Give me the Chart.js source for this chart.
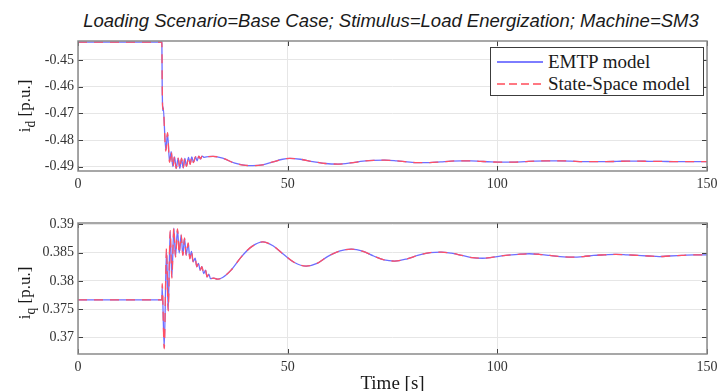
<!DOCTYPE html>
<html>
<head>
<meta charset="utf-8">
<script src="https://cdn.jsdelivr.net/npm/chart.js@4.4.1/dist/chart.umd.min.js"></script>
<style>
  html, body { margin: 0; padding: 0; background: #fff; }
  #wrap { position: relative; width: 726px; height: 391px; overflow: hidden; background: #fff; }
  canvas { position: absolute; left: 0; }
  #title { position: absolute; left: 391px; top: 10px; transform: translateX(-50%);
           font: italic 18.5px 'Liberation Sans', Arial, sans-serif; line-height: 21px;
           color: #1a1a1a; white-space: nowrap; }
  .ylab { position: absolute; font: 17px 'Liberation Serif', 'Times New Roman', serif; color: #1a1a1a;
          white-space: nowrap; transform: translate(-50%, -50%) rotate(-90deg); line-height: 20px; }
  .ylab sub { font-size: 0.8em; }
  #legend { position: absolute; left: 490px; top: 47px; width: 212px; height: 47px;
            border: 1px solid #3c3c3c; background: #fff;
            font: 19px 'Liberation Serif', 'Times New Roman', serif; color: #1a1a1a; }
  .row { position: absolute; left: 0; height: 22px; line-height: 22px; white-space: nowrap; }
  .row span.sw { position: absolute; left: 6px; width: 46px; height: 2px; top: 10px; }
  .row span.tx { position: absolute; left: 57px; top: 0; }
</style>
</head>
<body>
<div id="wrap">
  <div id="title">Loading Scenario=Base Case; Stimulus=Load Energization; Machine=SM3</div>
  <canvas id="chartD" width="726" height="195" style="top:0"></canvas>
  <canvas id="chartQ" width="726" height="200" style="top:195px"></canvas>
  <div class="ylab" style="left:28px; top:106px">i<sub>d</sub> [p.u.]</div>
  <div class="ylab" style="left:28px; top:293px">i<sub>q</sub> [p.u.]</div>
  <div id="legend">
    <div class="row" style="top:3px"><span class="sw" style="background:rgb(125,125,255)"></span><span class="tx">EMTP model</span></div>
    <div class="row" style="top:25px"><span class="sw" style="background:repeating-linear-gradient(to right, rgb(255,120,130) 0 8px, transparent 8px 12px)"></span><span class="tx">State-Space model</span></div>
  </div>
</div>
<script>
// tiempo [s] y corriente d (dos modelos)
const timeD = [0, 20.0, 20.08, 20.14, 20.2, 20.3, 20.95, 21.35, 21.83, 22.22, 22.62, 23.02,
  23.41, 23.89, 24.29, 24.68, 25.08, 25.48, 25.87, 26.35, 26.75, 27.14, 27.54, 28.02,
  28.41, 28.81, 29.21, 29.6, 30.1, 31, 32.2, 34.5, 37.4, 39.5, 41.7, 44,
  46.5, 48.5, 50.5, 53, 56, 59, 62, 65, 68, 70.5, 73.1, 76,
  78.5, 81, 83.8, 86.5, 89, 91.5, 93.7, 96, 98.5, 101, 103.7, 106.5,
  109, 112, 114.8, 117.5, 120.5, 123, 125.9, 128.5, 131, 134, 136.2, 139,
  142, 145, 150];
const idEmtp = [-0.4433, -0.4433, -0.4600, -0.4660, -0.4690, -0.4675, -0.4838, -0.4775, -0.4881, -0.4844, -0.4900, -0.4863,
  -0.4906, -0.4869, -0.4906, -0.4869, -0.4904, -0.4869, -0.4898, -0.4865, -0.4890, -0.4863, -0.4884, -0.4863,
  -0.4878, -0.4860, -0.4871, -0.4860, -0.4865, -0.4862, -0.4861, -0.4868, -0.4887, -0.4894, -0.4896, -0.4893,
  -0.4882, -0.4873, -0.48685, -0.4872, -0.4881, -0.4888, -0.4890, -0.4886, -0.4879, -0.4876, -0.4875, -0.4878,
  -0.4882, -0.4885, -0.4885, -0.4882, -0.4879, -0.4878, -0.4878, -0.4880, -0.4882, -0.4883, -0.4883, -0.4881,
  -0.4879, -0.4878, -0.4878, -0.4879, -0.4881, -0.4881, -0.4881, -0.4880, -0.4879, -0.4879, -0.4880, -0.4880,
  -0.4881, -0.4881, -0.4881];
const idSs = [-0.4433, -0.4433, -0.4590, -0.4655, -0.4682, -0.4680, -0.4842, -0.4772, -0.4884, -0.4842, -0.4902, -0.4861,
  -0.4907, -0.4868, -0.4907, -0.4868, -0.4905, -0.4868, -0.4899, -0.4864, -0.4891, -0.4862, -0.4885, -0.4862,
  -0.4879, -0.4860, -0.4871, -0.4860, -0.4865, -0.4862, -0.4861, -0.4868, -0.4887, -0.4894, -0.4896, -0.4893,
  -0.4882, -0.4873, -0.48685, -0.4872, -0.4881, -0.4888, -0.4890, -0.4886, -0.4879, -0.4876, -0.4875, -0.4878,
  -0.4882, -0.4885, -0.4885, -0.4882, -0.4879, -0.4878, -0.4878, -0.4880, -0.4882, -0.4883, -0.4883, -0.4881,
  -0.4879, -0.4878, -0.4878, -0.4879, -0.4881, -0.4881, -0.4881, -0.4880, -0.4879, -0.4879, -0.4880, -0.4880,
  -0.4881, -0.4881, -0.4881];

// tiempo [s] y corriente q
const timeQ = [0, 20.0, 20.08, 20.56, 21.11, 21.51, 21.98, 22.38, 22.86, 23.25, 23.73, 24.13,
  24.6, 25.0, 25.4, 25.79, 26.27, 26.67, 27.06, 27.46, 27.94, 28.33, 28.73, 29.13,
  29.52, 30.0, 30.4, 30.79, 31.2, 31.59, 32.4, 33.2, 34.5, 36.5, 39, 41.5,
  44.1, 46.5, 49, 51.5, 54.4, 57, 59.5, 62.5, 65.2, 68, 70.5, 73,
  75.5, 78.5, 81, 84, 86.6, 89, 91.5, 94, 96.5, 99, 102, 105,
  107.6, 110, 112.5, 115, 117.9, 120.5, 123, 125.5, 128.3, 131, 133.5, 136,
  138.6, 141, 144, 147, 150];
const iqEmtp = [0.37665, 0.37665, 0.3790, 0.3682, 0.3855, 0.3749, 0.3887, 0.3807, 0.3893, 0.3843, 0.3891, 0.3849,
  0.3881, 0.3846, 0.3875, 0.3846, 0.3866, 0.3840, 0.3852, 0.3834, 0.3840, 0.3825, 0.3831, 0.3819,
  0.3825, 0.3813, 0.3819, 0.3807, 0.3812, 0.3804, 0.3805, 0.3803, 0.3806, 0.3819, 0.3843, 0.3861,
  0.3869, 0.3862, 0.3847, 0.3833, 0.3826, 0.3831, 0.3843, 0.3853, 0.3856, 0.3852, 0.3844, 0.3837,
  0.3835, 0.3839, 0.3845, 0.3850, 0.3851, 0.3849, 0.3845, 0.3841, 0.3840, 0.3842, 0.3845, 0.3847,
  0.3848, 0.3847, 0.3845, 0.3843, 0.3842, 0.3843, 0.3845, 0.3846, 0.3847, 0.3846, 0.3845, 0.3844,
  0.3843, 0.3844, 0.3845, 0.3846, 0.3846];
const iqSs = [0.37665, 0.37665, 0.3795, 0.3680, 0.3857, 0.3747, 0.3889, 0.3805, 0.3894, 0.3842, 0.3892, 0.3848,
  0.3882, 0.3845, 0.3876, 0.3845, 0.3867, 0.3839, 0.3853, 0.3833, 0.3840, 0.3825, 0.3831, 0.3819,
  0.3825, 0.3813, 0.3819, 0.3807, 0.3812, 0.3804, 0.3805, 0.3803, 0.3806, 0.3819, 0.3843, 0.3861,
  0.3869, 0.3862, 0.3847, 0.3833, 0.3826, 0.3831, 0.3843, 0.3853, 0.3856, 0.3852, 0.3844, 0.3837,
  0.3835, 0.3839, 0.3845, 0.3850, 0.3851, 0.3849, 0.3845, 0.3841, 0.3840, 0.3842, 0.3845, 0.3847,
  0.3848, 0.3847, 0.3845, 0.3843, 0.3842, 0.3843, 0.3845, 0.3846, 0.3847, 0.3846, 0.3845, 0.3844,
  0.3843, 0.3844, 0.3845, 0.3846, 0.3846];

const xTicks = [0, 50, 100, 150];

const BLUE = 'rgb(110,110,255)';
const RED = 'rgb(255,80,100)';
const GRID = '#e6e6e6';
const SERIF = "'Liberation Serif', 'Times New Roman', serif";

Chart.defaults.font.family = SERIF;
Chart.defaults.font.size = 14;
Chart.defaults.color = '#333';

// caja estilo MATLAB con marcas hacia dentro
const framePlugin = {
  id: 'frame',
  afterDraw(chart) {
    const { ctx, chartArea: a, scales: { x, y } } = chart;
    ctx.save();
    ctx.strokeStyle = '#404040';
    ctx.lineWidth = 1;
    ctx.beginPath();
    x.ticks.forEach(t => {
      const px = Math.round(x.getPixelForValue(t.value)) + 0.5;
      ctx.moveTo(px, a.bottom); ctx.lineTo(px, a.bottom - 5);
      ctx.moveTo(px, a.top); ctx.lineTo(px, a.top + 5);
    });
    y.ticks.forEach(t => {
      const py = Math.round(y.getPixelForValue(t.value)) + 0.5;
      ctx.moveTo(a.left, py); ctx.lineTo(a.left + 5, py);
      ctx.moveTo(a.right, py); ctx.lineTo(a.right - 5, py);
    });
    ctx.stroke();
    ctx.strokeStyle = '#8a8a8a';
    ctx.lineWidth = 1.5;
    ctx.strokeRect(a.left, a.top, a.right - a.left, a.bottom - a.top);
    ctx.restore();
  }
};

function toPoints(time, values) {
  return time.map((t, i) => ({ x: t, y: values[i] }));
}

function renderChart(canvas, time, emtp, ss, yMin, yMax, yStep, digits, padTop, xHeight, xTitle) {
  return new Chart(canvas.getContext('2d'), {
    type: 'line',
    data: {
      datasets: [
        {
          label: 'EMTP model',
          data: toPoints(time, emtp),
          borderColor: BLUE,
          borderWidth: 1.3,
          pointRadius: 0,
          cubicInterpolationMode: 'monotone',
          order: 2
        },
        {
          label: 'State-Space model',
          data: toPoints(time, ss),
          borderColor: RED,
          borderWidth: 1.3,
          borderDash: [9, 7],
          pointRadius: 0,
          cubicInterpolationMode: 'monotone',
          order: 1
        }
      ]
    },
    options: {
      responsive: false,
      animation: false,
      layout: { padding: { top: padTop, right: 19, left: 0, bottom: 0 } },
      plugins: {
        legend: { display: false },
        tooltip: { enabled: false }
      },
      scales: {
        x: {
          type: 'linear',
          min: 0,
          max: 150,
          afterBuildTicks: s => { s.ticks = xTicks.map(v => ({ value: v })); },
          afterFit: s => { s.height = xHeight; },
          border: { display: false },
          grid: { color: GRID, drawTicks: false },
          ticks: {
            padding: 5,
            color: '#333',
            font: { family: SERIF, size: 14 },
            maxRotation: 0,
            callback: v => String(v)
          },
          title: {
            display: !!xTitle,
            text: xTitle || '',
            color: '#1a1a1a',
            font: { family: SERIF, size: 19 },
            padding: 0
          }
        },
        y: {
          min: yMin,
          max: yMax,
          afterFit: s => { s.width = 78; },
          border: { display: false },
          grid: { color: GRID, drawTicks: false },
          ticks: {
            stepSize: yStep,
            includeBounds: false,
            padding: 4,
            color: '#333',
            font: { family: SERIF, size: 14 },
            callback: v => String(+Number(v).toFixed(digits))
          }
        }
      }
    },
    plugins: [framePlugin]
  });
}

renderChart(document.getElementById('chartD'), timeD, idEmtp, idSs,
  -0.49161, -0.44288, 0.01, 2, 41, 24, null);
renderChart(document.getElementById('chartQ'), timeQ, iqEmtp, iqSs,
  0.36708, 0.39023, 0.005, 3, 28, 41, 'Time [s]');
</script>
</body>
</html>
